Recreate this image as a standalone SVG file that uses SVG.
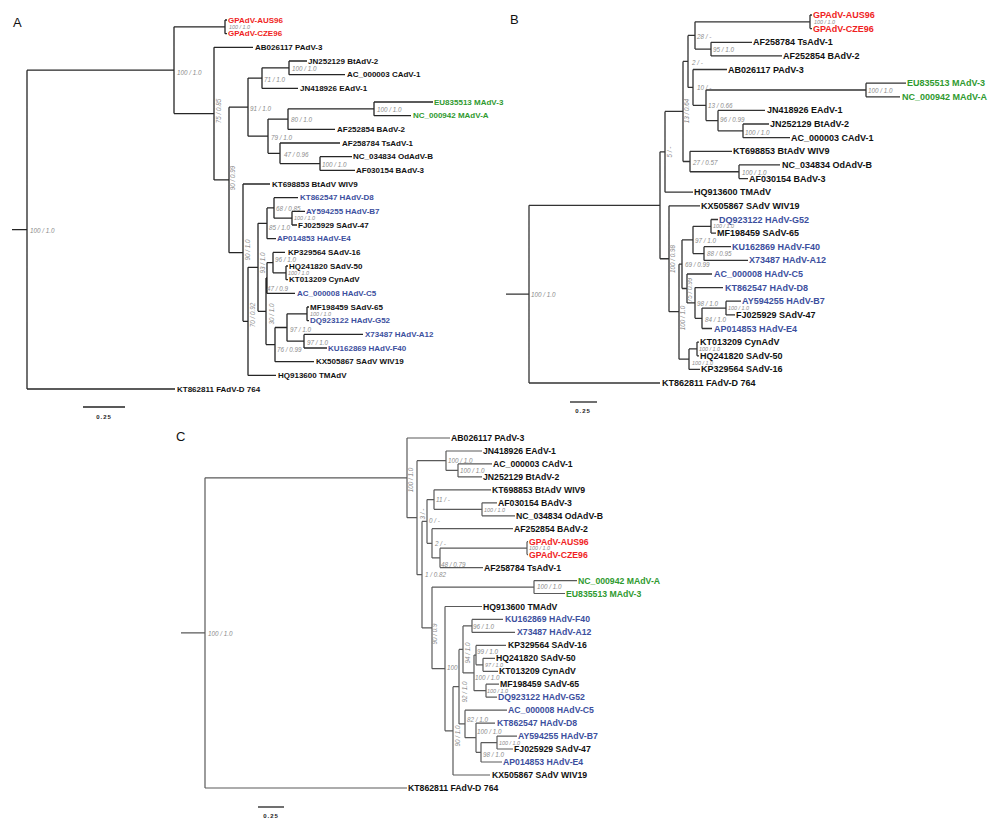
<svg xmlns="http://www.w3.org/2000/svg" width="1000" height="827" viewBox="0 0 1000 827">
<style>
text{font-family:"Liberation Sans",Arial,sans-serif}
.ea{fill:none;stroke:#262626;stroke-width:1.3}
.eb{fill:none;stroke:#333;stroke-width:1.3}
.ec{fill:none;stroke:#5a5a5a;stroke-width:1.2}
.la{font-size:8px;font-weight:bold;fill:#111;dominant-baseline:central}
.lb{font-size:9px;font-weight:bold;fill:#111;dominant-baseline:central}
.lc{font-size:8.7px;font-weight:bold;fill:#111;dominant-baseline:central}
.r{fill:#f01e23}.g{fill:#2f9a2f}.u{fill:#3c4f9e}
.s{font-size:6.3px;font-style:italic;fill:#8c8c8c;dominant-baseline:central}
.t{font-size:5.4px;font-style:italic;fill:#8c8c8c;dominant-baseline:central}
.sr{font-size:6.3px;font-style:italic;fill:#8c8c8c;text-anchor:middle}
.sc{font-size:6px;font-weight:bold;fill:#222;text-anchor:middle;letter-spacing:1px}
.pl{font-size:13px;fill:#111}
.bar{stroke:#222;stroke-width:1.3}
</style>

<text class="pl" x="13" y="27">A</text>
<text class="pl" x="510" y="24">B</text>
<text class="pl" x="176" y="441">C</text>

<!-- ================= PANEL A ================= -->
<g id="A-connectors">
<path class="ea" d="M12 229.6H27 M27 70.2V389 M27 70.2H174 M174 26.85V113.6 M174 26.85H225 M225 20V33.7 M225 20H227 M225 33.7H227 M174 113.6H214 M214 47.3V179.9 M214 47.3H253 M214 179.9H229 M229 107.15V252.7 M229 107.15H248 M248 78.1V136.2 M248 78.1H262 M262 67.85V88.4 M262 67.85H289 M289 61V74.7 M289 61H307 M289 74.7H345 M262 88.4H298 M248 136.2H268 M268 119.1V153.3 M268 119.1H288 M288 108.85V129.4 M288 108.85H374 M374 102V115.7 M374 102H433 M374 115.7H411 M288 129.4H335 M268 153.3H280 M280 143V163.55 M280 143H340 M280 163.55H320 M320 156.7V170.4 M320 156.7H352 M320 170.4H355 M229 252.7H243 M243 184V321.35 M243 184H270 M243 321.35H248 M248 267.3V375.4 M248 267.3H258 M258 223.3V311.3 M258 223.3H267 M267 207.95V238.7 M267 207.95H274 M274 197.7V218.2 M274 197.7H298 M274 218.2H292 M292 211.4V225 M292 211.4H305 M292 225H297 M267 238.7H276 M258 311.3H266 M266 278V344.6 M266 278H267 M267 262.6V293.4 M267 262.6H273 M273 252.4V272.85 M273 252.4H285 M273 272.85H286 M286 266V279.7 M286 266H288 M286 279.7H288 M267 293.4H295 M266 344.6H275 M275 327.5V361.7 M275 327.5H287 M287 313.85V341.2 M287 313.85H307 M307 307V320.7 M307 307H309 M307 320.7H309 M287 341.2H304 M304 334.4V348 M304 334.4H363 M304 348H327 M275 361.7H314 M248 375.4H276 M27 389H175"/>
<line class="bar" x1="83" y1="407" x2="125" y2="407"/>
</g>
<g id="A-scale"><text class="sc" x="104" y="419">0.25</text></g>
<g id="A-leaves">
<g id="A-n1"><text class="la r" x="228" y="20">GPAdV-AUS96</text></g>
<g id="A-n2"><text class="la r" x="228" y="33.7">GPAdV-CZE96</text></g>
<g id="A-n3"><text class="la" x="255" y="47.3">AB026117 PAdV-3</text></g>
<g id="A-n4"><text class="la" x="308" y="61">JN252129 BtAdV-2</text></g>
<g id="A-n5"><text class="la" x="347" y="74.7">AC_000003 CAdV-1</text></g>
<g id="A-n6"><text class="la" x="300" y="88.4">JN418926 EAdV-1</text></g>
<g id="A-n7"><text class="la g" x="434" y="102">EU835513 MAdV-3</text></g>
<g id="A-n8"><text class="la g" x="413" y="115.7">NC_000942 MAdV-A</text></g>
<g id="A-n9"><text class="la" x="337" y="129.4">AF252854 BAdV-2</text></g>
<g id="A-n10"><text class="la" x="342" y="143">AF258784 TsAdV-1</text></g>
<g id="A-n11"><text class="la" x="353" y="156.7">NC_034834 OdAdV-B</text></g>
<g id="A-n12"><text class="la" x="356" y="170.4">AF030154 BAdV-3</text></g>
<g id="A-n13"><text class="la" x="272" y="184">KT698853 BtAdV WIV9</text></g>
<g id="A-n14"><text class="la u" x="300" y="197.7">KT862547 HAdV-D8</text></g>
<g id="A-n15"><text class="la u" x="306" y="211.4">AY594255 HAdV-B7</text></g>
<g id="A-n16"><text class="la" x="298" y="225">FJ025929 SAdV-47</text></g>
<g id="A-n17"><text class="la u" x="277" y="238.7">AP014853 HAdV-E4</text></g>
<g id="A-n18"><text class="la" x="288" y="252.4">KP329564 SAdV-16</text></g>
<g id="A-n19"><text class="la" x="289" y="266">HQ241820 SAdV-50</text></g>
<g id="A-n20"><text class="la" x="289" y="279.7">KT013209 CynAdV</text></g>
<g id="A-n21"><text class="la u" x="297" y="293.4">AC_000008 HAdV-C5</text></g>
<g id="A-n22"><text class="la" x="310" y="307">MF198459 SAdV-65</text></g>
<g id="A-n23"><text class="la u" x="310" y="320.7">DQ923122 HAdV-G52</text></g>
<g id="A-n24"><text class="la u" x="365" y="334.4">X73487 HAdV-A12</text></g>
<g id="A-n25"><text class="la u" x="328" y="348">KU162869 HAdV-F40</text></g>
<g id="A-n26"><text class="la" x="316" y="361.7">KX505867 SAdV WIV19</text></g>
<g id="A-n27"><text class="la" x="278" y="375.4">HQ913600 TMAdV</text></g>
<g id="A-n28"><text class="la" x="177" y="389">KT862811 FAdV-D 764</text></g>
</g>
<g id="A-support">
<text class="s" x="30" y="230">100 / 1.0</text>
<text class="s" x="177" y="72">100 / 1.0</text>
<text class="t" x="229" y="27">100 / 1.0</text>
<text class="sr" transform="translate(221,111) rotate(-90)">75 / 0.85</text>
<text class="s" x="264" y="79">71 / 1.0</text>
<text class="s" x="292" y="68">100 / 1.0</text>
<text class="s" x="250" y="108">91 / 1.0</text>
<text class="s" x="291" y="119">80 / 1.0</text>
<text class="s" x="377" y="109">100 / 1.0</text>
<text class="s" x="271" y="137">79 / 1.0</text>
<text class="s" x="284" y="154">47 / 0.96</text>
<text class="s" x="322" y="164">100 / 1.0</text>
<text class="sr" transform="translate(235,178) rotate(-90)">90 / 0.99</text>
<text class="s" x="276" y="208">68 / 0.85</text>
<text class="t" x="294" y="218">100 / 1.0</text>
<text class="s" x="269" y="227">85 / 1.0</text>
<text class="sr" transform="translate(250,250) rotate(-90)">90 / 1.0</text>
<text class="sr" transform="translate(265,263) rotate(-90)">93 / 1.0</text>
<text class="s" x="275" y="259">96 / 1.0</text>
<text class="t" x="288" y="273">100 / 1.0</text>
<text class="s" x="267" y="288">47 / 0.9</text>
<text class="sr" transform="translate(255,315) rotate(-90)">70 / 0.92</text>
<text class="sr" transform="translate(274,314) rotate(-90)">30 / 1.0</text>
<text class="t" x="310" y="314">100 / 1.0</text>
<text class="s" x="290" y="329">97 / 1.0</text>
<text class="s" x="307" y="342">97 / 1.0</text>
<text class="s" x="277" y="349">76 / 0.99</text>
</g>

<!-- ================= PANEL B ================= -->
<g id="B-connectors">
<path class="eb" d="M506 294.15H529 M529 205.3V383 M529 205.3H660 M660 151.8V258.75 M660 151.8H665 M665 111.45V192.2 M665 111.45H683 M683 61.4V161.5 M683 61.4H688 M688 35.45V87.4 M688 35.45H695 M695 21.8V49.1 M695 21.8H810 M810 15V28.6 M810 15H812 M810 28.6H812 M695 49.1H711 M711 42.3V55.9 M711 42.3H752 M711 55.9H782 M688 87.4H693 M693 69.5V105.3 M693 69.5H727 M693 105.3H706 M706 90V120.6 M706 90H866 M866 83.2V96.8 M866 83.2H906 M866 96.8H900 M706 120.6H718 M718 110.4V130.85 M718 110.4H765 M718 130.85H743 M743 124V137.7 M743 124H769 M743 137.7H790 M683 161.5H690 M690 151.3V171.75 M690 151.3H732 M690 171.75H739 M739 164.9V178.6 M739 164.9H780 M739 178.6H748 M665 192.2H693 M660 258.75H669 M669 205.8V311.7 M669 205.8H700 M669 311.7H679 M679 264.2V359.2 M679 264.2H682 M682 239.9V288.5 M682 239.9H693 M693 226.3V253.55 M693 226.3H711 M711 219.5V233.1 M711 219.5H718 M711 233.1H716 M693 253.55H704 M704 246.7V260.4 M704 246.7H731 M704 260.4H748 M682 288.5H687 M687 274V302.95 M687 274H712 M687 302.95H695 M695 287.6V318.3 M695 287.6H723 M695 318.3H702 M702 308.05V328.5 M702 308.05H726 M726 301.2V314.9 M726 301.2H741 M726 314.9H735 M702 328.5H712 M679 359.2H689 M689 348.95V369.4 M689 348.95H697 M697 342.1V355.8 M697 342.1H699 M697 355.8H699 M689 369.4H700 M529 383H660"/>
<line class="bar" x1="570" y1="402" x2="597" y2="402"/>
</g>
<g id="B-scale"><text class="sc" x="583" y="413">0.25</text></g>
<g id="B-leaves">
<g id="B-n1"><text class="lb r" x="813" y="15">GPAdV-AUS96</text></g>
<g id="B-n2"><text class="lb r" x="813" y="28.6">GPAdV-CZE96</text></g>
<g id="B-n3"><text class="lb" x="753" y="42.3">AF258784 TsAdV-1</text></g>
<g id="B-n4"><text class="lb" x="783" y="55.9">AF252854 BAdV-2</text></g>
<g id="B-n5"><text class="lb" x="728" y="69.5">AB026117 PAdV-3</text></g>
<g id="B-n6"><text class="lb g" x="907" y="83.2">EU835513 MAdV-3</text></g>
<g id="B-n7"><text class="lb g" x="902" y="96.8">NC_000942 MAdV-A</text></g>
<g id="B-n8"><text class="lb" x="767" y="110.4">JN418926 EAdV-1</text></g>
<g id="B-n9"><text class="lb" x="770" y="124">JN252129 BtAdV-2</text></g>
<g id="B-n10"><text class="lb" x="791" y="137.7">AC_000003 CAdV-1</text></g>
<g id="B-n11"><text class="lb" x="733" y="151.3">KT698853 BtAdV WIV9</text></g>
<g id="B-n12"><text class="lb" x="782" y="164.9">NC_034834 OdAdV-B</text></g>
<g id="B-n13"><text class="lb" x="749" y="178.6">AF030154 BAdV-3</text></g>
<g id="B-n14"><text class="lb" x="694" y="192.2">HQ913600 TMAdV</text></g>
<g id="B-n15"><text class="lb" x="701" y="205.8">KX505867 SAdV WIV19</text></g>
<g id="B-n16"><text class="lb u" x="719" y="219.5">DQ923122 HAdV-G52</text></g>
<g id="B-n17"><text class="lb" x="717" y="233.1">MF198459 SAdV-65</text></g>
<g id="B-n18"><text class="lb u" x="732" y="246.7">KU162869 HAdV-F40</text></g>
<g id="B-n19"><text class="lb u" x="749" y="260.4">X73487 HAdV-A12</text></g>
<g id="B-n20"><text class="lb u" x="714" y="274">AC_000008 HAdV-C5</text></g>
<g id="B-n21"><text class="lb u" x="725" y="287.6">KT862547 HAdV-D8</text></g>
<g id="B-n22"><text class="lb u" x="742" y="301.2">AY594255 HAdV-B7</text></g>
<g id="B-n23"><text class="lb" x="736" y="314.9">FJ025929 SAdV-47</text></g>
<g id="B-n24"><text class="lb u" x="714" y="328.5">AP014853 HAdV-E4</text></g>
<g id="B-n25"><text class="lb" x="700" y="342.1">KT013209 CynAdV</text></g>
<g id="B-n26"><text class="lb" x="700" y="355.8">HQ241820 SAdV-50</text></g>
<g id="B-n27"><text class="lb" x="701" y="369.4">KP329564 SAdV-16</text></g>
<g id="B-n28"><text class="lb" x="662" y="383">KT862811 FAdV-D 764</text></g>
</g>
<g id="B-support">
<text class="s" x="531" y="294">100 / 1.0</text>
<text class="t" x="814" y="22">100 / 1.0</text>
<text class="s" x="697" y="36">28 / -</text>
<text class="s" x="713" y="49">95 / 1.0</text>
<text class="s" x="692" y="62">2 / -</text>
<text class="s" x="697" y="87">10 / -</text>
<text class="s" x="868" y="90">100 / 1.0</text>
<text class="s" x="708" y="105">13 / 0.66</text>
<text class="s" x="720" y="119">96 / 0.99</text>
<text class="s" x="745" y="132">100 / 1.0</text>
<text class="sr" transform="translate(689,111) rotate(-90)">13 / 0.64</text>
<text class="sr" transform="translate(672,152) rotate(-90)">5 / -</text>
<text class="s" x="693" y="162">27 / 0.57</text>
<text class="s" x="742" y="172">100 / 1.0</text>
<text class="sr" transform="translate(675,259) rotate(-90)">100 / 0.98</text>
<text class="t" x="713" y="226">100 / 1.0</text>
<text class="s" x="695" y="240">97 / 1.0</text>
<text class="s" x="707" y="253">88 / 0.95</text>
<text class="s" x="685" y="264">69 / 0.99</text>
<text class="sr" transform="translate(692,290) rotate(-90)">75 / 0.99</text>
<text class="s" x="697" y="303">98 / 1.0</text>
<text class="t" x="728" y="308">100 / 1.0</text>
<text class="s" x="705" y="319">84 / 1.0</text>
<text class="sr" transform="translate(685,318) rotate(-90)">100 / 1.0</text>
<text class="t" x="699" y="349">100 / 1.0</text>
<text class="t" x="692" y="362.5">100 / 1.0</text>
</g>

<!-- ================= PANEL C ================= -->
<g id="C-connectors">
<path class="ec" d="M181 632.9H205 M205 477.85V788 M205 477.85H407 M407 438V517.7 M407 438H450 M407 517.7H417 M417 460.7V574.65 M417 460.7H446 M446 451V470.4 M446 451H482 M446 470.4H458 M458 463.9V476.9 M458 463.9H492 M458 476.9H482 M417 574.65H422 M422 521.4V627.9 M422 521.4H427 M427 499.55V543.3 M427 499.55H434 M434 489.8V509.3 M434 489.8H491 M434 509.3H482 M482 502.8V515.8 M482 502.8H497 M482 515.8H515 M427 543.3H432 M432 528.7V557.9 M432 528.7H513 M432 557.9H440 M440 548.15V567.6 M440 548.15H527 M527 541.7V554.6 M527 541.7H528 M527 554.6H528 M440 567.6H483 M422 627.9H432 M432 587.05V668.7 M432 587.05H534 M534 580.6V593.5 M534 580.6H577 M534 593.5H565 M432 668.7H445 M445 606.5V730.85 M445 606.5H482 M445 730.85H453 M453 686.7V775 M453 686.7H459 M459 649.4V723.95 M459 649.4H463 M463 625.9V672.9 M463 625.9H472 M472 619.4V632.4 M472 619.4H503 M472 632.4H515 M463 672.9H474 M474 655.1V690.7 M474 655.1H476 M476 645.4V664.8 M476 645.4H506 M476 664.8H483 M483 658.3V671.3 M483 658.3H495 M483 671.3H498 M474 690.7H486 M486 684.2V697.2 M486 684.2H499 M486 697.2H497 M459 723.95H465 M465 710.2V737.7 M465 710.2H507 M465 737.7H476 M476 723.1V752.3 M476 723.1H495 M476 752.3H481 M481 742.55V762 M481 742.55H497 M497 736.1V749 M497 736.1H517 M497 749H513 M481 762H502 M453 775H490 M205 788H407"/>
<line class="bar" x1="258" y1="807" x2="284" y2="807"/>
</g>
<g id="C-scale"><text class="sc" x="271" y="818">0.25</text></g>
<g id="C-leaves">
<g id="C-n1"><text class="lc" x="451" y="438">AB026117 PAdV-3</text></g>
<g id="C-n2"><text class="lc" x="483" y="451">JN418926 EAdV-1</text></g>
<g id="C-n3"><text class="lc" x="493" y="463.9">AC_000003 CAdV-1</text></g>
<g id="C-n4"><text class="lc" x="483" y="476.9">JN252129 BtAdV-2</text></g>
<g id="C-n5"><text class="lc" x="492" y="489.8">KT698853 BtAdV WIV9</text></g>
<g id="C-n6"><text class="lc" x="498" y="502.8">AF030154 BAdV-3</text></g>
<g id="C-n7"><text class="lc" x="516" y="515.8">NC_034834 OdAdV-B</text></g>
<g id="C-n8"><text class="lc" x="514" y="528.7">AF252854 BAdV-2</text></g>
<g id="C-n9"><text class="lc r" x="529" y="541.7">GPAdV-AUS96</text></g>
<g id="C-n10"><text class="lc r" x="529" y="554.6">GPAdV-CZE96</text></g>
<g id="C-n11"><text class="lc" x="484" y="567.6">AF258784 TsAdV-1</text></g>
<g id="C-n12"><text class="lc g" x="578" y="580.6">NC_000942 MAdV-A</text></g>
<g id="C-n13"><text class="lc g" x="566" y="593.5">EU835513 MAdV-3</text></g>
<g id="C-n14"><text class="lc" x="483" y="606.5">HQ913600 TMAdV</text></g>
<g id="C-n15"><text class="lc u" x="505" y="619.4">KU162869 HAdV-F40</text></g>
<g id="C-n16"><text class="lc u" x="517" y="632.4">X73487 HAdV-A12</text></g>
<g id="C-n17"><text class="lc" x="508" y="645.4">KP329564 SAdV-16</text></g>
<g id="C-n18"><text class="lc" x="496" y="658.3">HQ241820 SAdV-50</text></g>
<g id="C-n19"><text class="lc" x="499" y="671.3">KT013209 CynAdV</text></g>
<g id="C-n20"><text class="lc" x="500" y="684.2">MF198459 SAdV-65</text></g>
<g id="C-n21"><text class="lc u" x="498" y="697.2">DQ923122 HAdV-G52</text></g>
<g id="C-n22"><text class="lc u" x="508" y="710.2">AC_000008 HAdV-C5</text></g>
<g id="C-n23"><text class="lc u" x="497" y="723.1">KT862547 HAdV-D8</text></g>
<g id="C-n24"><text class="lc u" x="518" y="736.1">AY594255 HAdV-B7</text></g>
<g id="C-n25"><text class="lc" x="514" y="749">FJ025929 SAdV-47</text></g>
<g id="C-n26"><text class="lc u" x="503" y="762">AP014853 HAdV-E4</text></g>
<g id="C-n27"><text class="lc" x="492" y="775">KX505867 SAdV WIV19</text></g>
<g id="C-n28"><text class="lc" x="408" y="788">KT862811 FAdV-D 764</text></g>
</g>
<g id="C-support">
<text class="s" x="208" y="633">100 / 1.0</text>
<text class="sr" transform="translate(413,480) rotate(-90)">100 / 1.0</text>
<text class="s" x="448" y="460">100 / 1.0</text>
<text class="s" x="460" y="470">100 / 1.0</text>
<text class="sr" transform="translate(425,514) rotate(-90)">3 / -</text>
<text class="s" x="436" y="499">11 / -</text>
<text class="t" x="484" y="509.6">100 / 1.0</text>
<text class="s" x="429" y="520">0 / -</text>
<text class="s" x="435" y="543">2 / -</text>
<text class="t" x="529" y="548.2">100 / 1.0</text>
<text class="s" x="441" y="564">48 / 0.79</text>
<text class="s" x="425" y="574">1 / 0.82</text>
<text class="s" x="537" y="586">100 / 1.0</text>
<text class="sr" transform="translate(437,634) rotate(-90)">90 / 0.9</text>
<text class="s" x="473" y="626">96 / 1.0</text>
<text class="sr" transform="translate(470,653) rotate(-90)">94 / 1.0</text>
<text class="s" x="477" y="651">99 / 1.0</text>
<text class="t" x="485" y="664.6">97 / 1.0</text>
<text class="s" x="447" y="667">100</text>
<text class="s" x="475" y="677">100 / 1.0</text>
<text class="t" x="487" y="690.7">100 / 1.0</text>
<text class="sr" transform="translate(467,692) rotate(-90)">92 / 1.0</text>
<text class="s" x="467" y="719">82 / 1.0</text>
<text class="s" x="477" y="731">100 / 1.0</text>
<text class="t" x="499" y="742.5">100 / 1.0</text>
<text class="s" x="483" y="754">98 / 1.0</text>
<text class="sr" transform="translate(460,736) rotate(-90)">90 / 1.0</text>
</g>
</svg>
